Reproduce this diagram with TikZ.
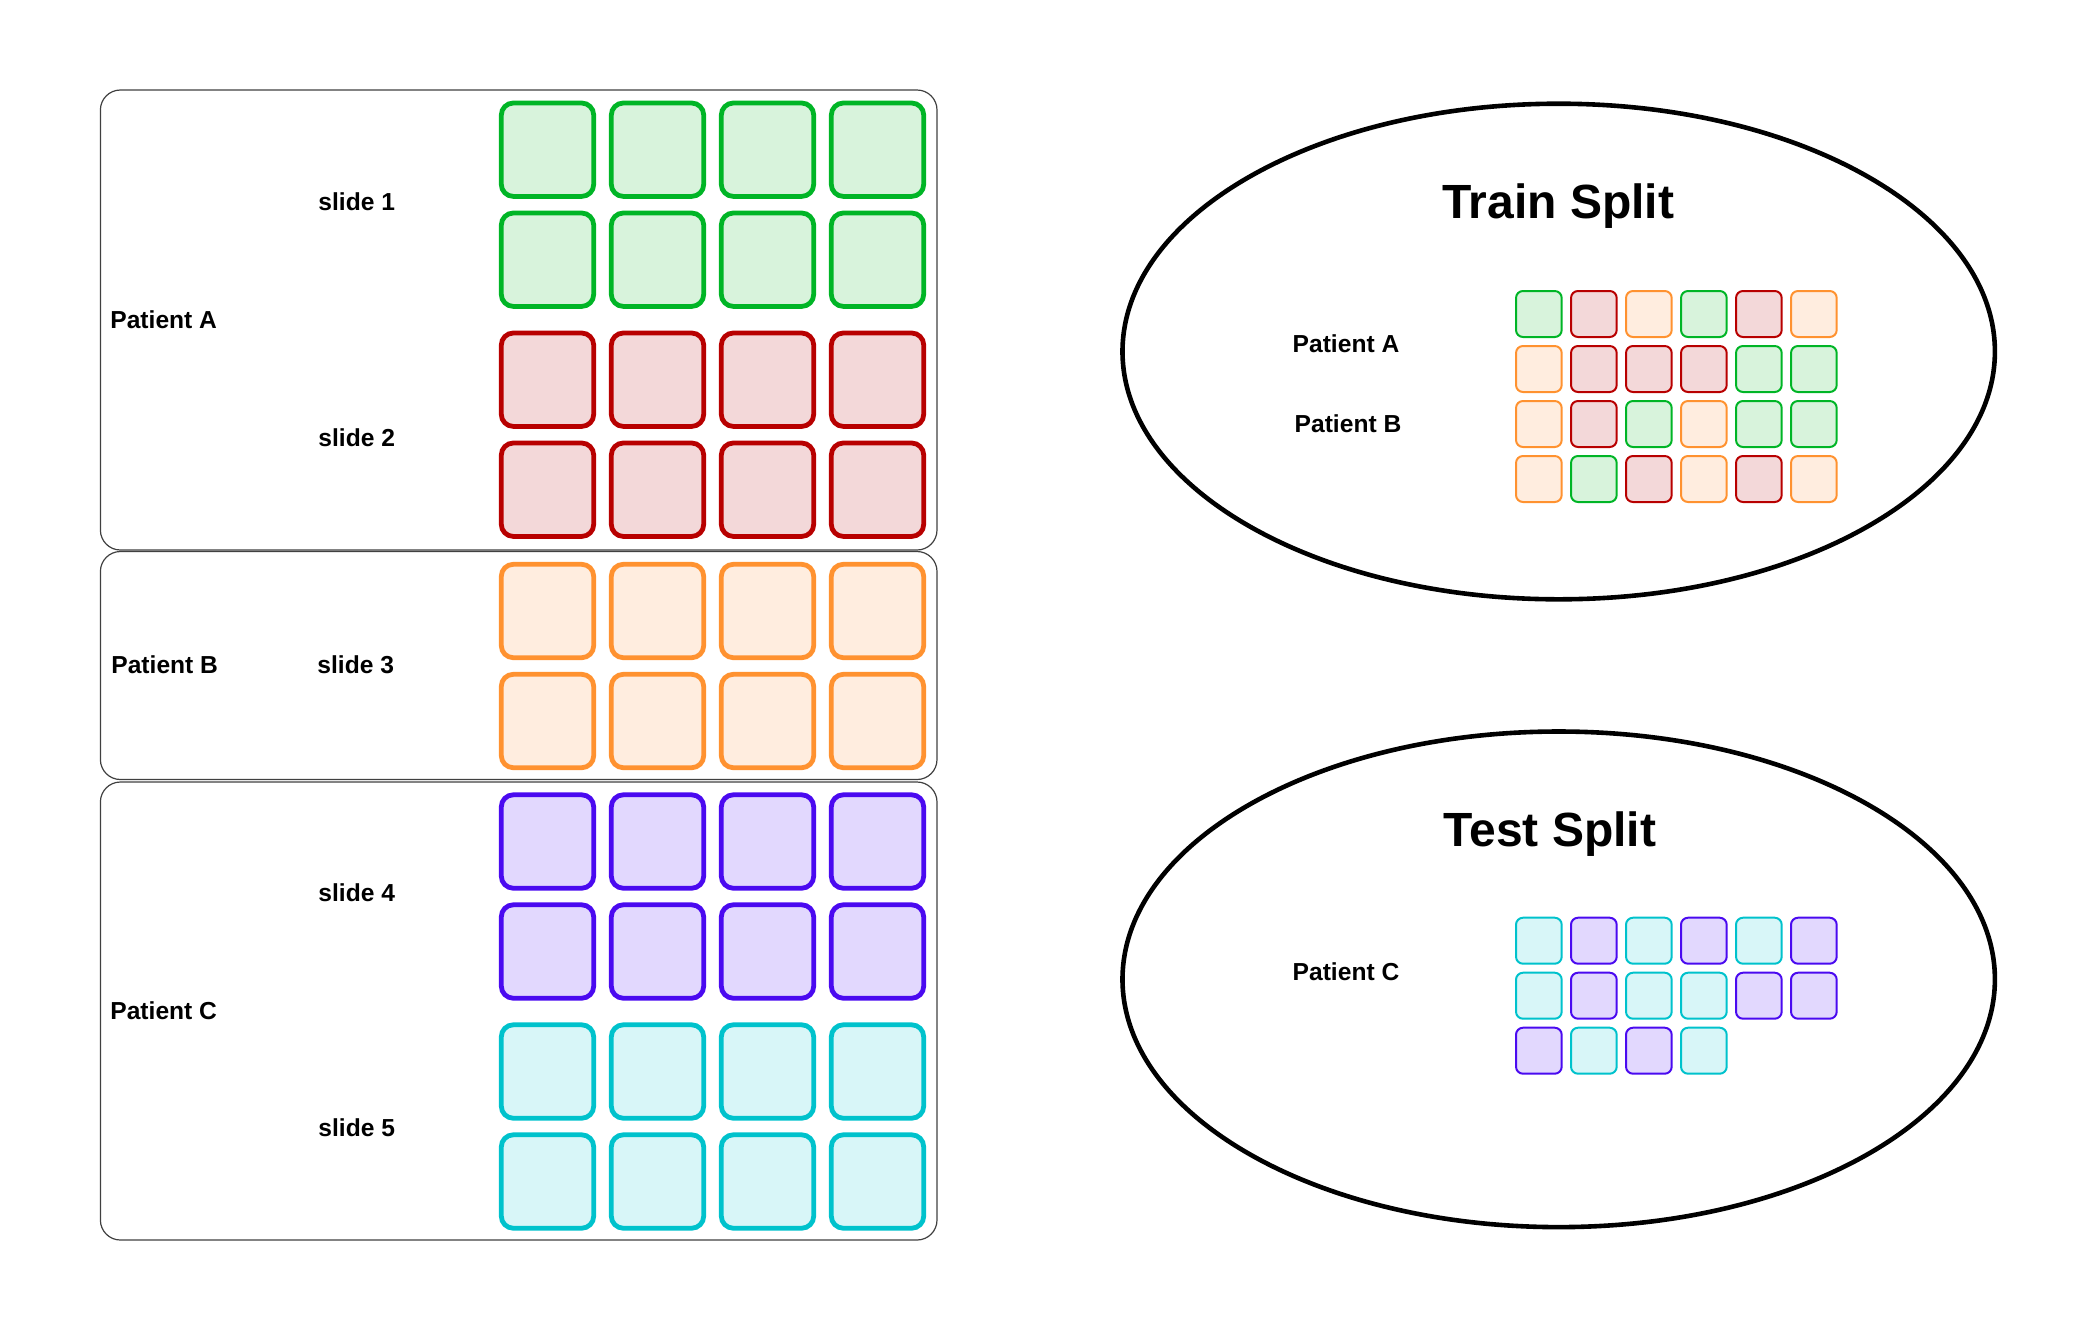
\documentclass[tikz,border=0pt]{standalone}
\usepackage{fontspec}
\setmainfont{Liberation Sans}
\definecolor{gS}{HTML}{00B526}
\definecolor{gF}{HTML}{D8F3DC}
\definecolor{rS}{HTML}{B80000}
\definecolor{rF}{HTML}{F3D8D9}
\definecolor{oS}{HTML}{FF9230}
\definecolor{oF}{HTML}{FFEDDF}
\definecolor{pS}{HTML}{4A0AF0}
\definecolor{pF}{HTML}{E2D8FE}
\definecolor{cS}{HTML}{00C2CC}
\definecolor{cF}{HTML}{D8F6F8}
\definecolor{boxS}{HTML}{404040}
\tikzset{
  lbl/.style={font=\fontsize{12.3}{14}\selectfont\bfseries, inner sep=0pt, text height=8.8pt, text depth=0pt},
  ttl/.style={font=\fontsize{24}{28}\selectfont\bfseries, inner sep=0pt, text height=17.2pt, text depth=0pt},
  pbox/.style={draw=boxS, line width=0.6pt, rounded corners=10pt},
  big/.style={line width=2.4pt, rounded corners=6pt},
  small/.style={line width=1pt, rounded corners=3.5pt},
  G/.style={draw=gS, fill=gF}, R/.style={draw=rS, fill=rF}, O/.style={draw=oS, fill=oF},
  P/.style={draw=pS, fill=pF}, C/.style={draw=cS, fill=cF},
  split/.style={draw=black, line width=2.3pt}
}
\begin{document}
\begin{tikzpicture}[x=0.5pt,y=-0.5pt]
\useasboundingbox (0,0) rectangle (2099,1330);
% patient boxes
\draw[pbox] (100.4,90) rectangle (937,550);
\draw[pbox] (100.4,551.5) rectangle (937,779.5);
\draw[pbox] (100.4,782) rectangle (937,1240);
% big tiles
\foreach \t/\s in {100.7/G,210.7/G,330.7/R,440.7/R,562/O,672/O,792.5/P,902.5/P,1022.5/C,1132.5/C}{
  \foreach \l in {499,609,719,829}{
    \draw[big,\s] (\l+2.3,\t+2.3) rectangle (\l+94.7,\t+95.7);
  }
}
% left labels
\node[lbl, anchor=west] (pa) at (110,320) {Patient A};
\node[lbl, anchor=west] (s1) at (318,202) {slide 1};
\node[lbl, anchor=west] (s2) at (318,438) {slide 2};
\node[lbl, anchor=west] (pb) at (111,665) {Patient B};
\node[lbl, anchor=west] (s3) at (317,665) {slide 3};
\node[lbl, anchor=west] (pc) at (110,1011) {Patient C};
\node[lbl, anchor=west] (s4) at (318,893) {slide 4};
\node[lbl, anchor=west] (s5) at (318,1128) {slide 5};
% splits
\draw[split] (1558.7,351.5) ellipse [x radius=218.1pt, y radius=123.9pt];
\draw[split] (1558.7,979.3) ellipse [x radius=218.1pt, y radius=123.9pt];
\node[ttl] (train) at (1558,201) {Train Split};
\node[ttl] (test) at (1550,829) {Test Split};
\node[lbl] (tpa) at (1346,344) {Patient A};
\node[lbl] (tpb) at (1348,424) {Patient B};
\node[lbl] (tpc) at (1346,972) {Patient C};
% train small tiles
\foreach \row [count=\r from 0] in {{G,R,O,G,R,O},{O,R,R,R,G,G},{O,R,G,O,G,G},{O,G,R,O,R,O}}{
  \foreach \s [count=\c from 0] in \row {
    \draw[small,\s] (1515+55*\c+1,290+55*\r+1) rectangle (1515+55*\c+46.7,290+55*\r+47);
  }
}
% test small tiles
\foreach \row [count=\r from 0] in {{C,P,C,P,C,P},{C,P,C,C,P,P},{P,C,P,C}}{
  \foreach \s [count=\c from 0] in \row {
    \draw[small,\s] (1515+55*\c+1,916.7+55*\r+1) rectangle (1515+55*\c+46.7,916.7+55*\r+47);
  }
}
\end{tikzpicture}
\end{document}
